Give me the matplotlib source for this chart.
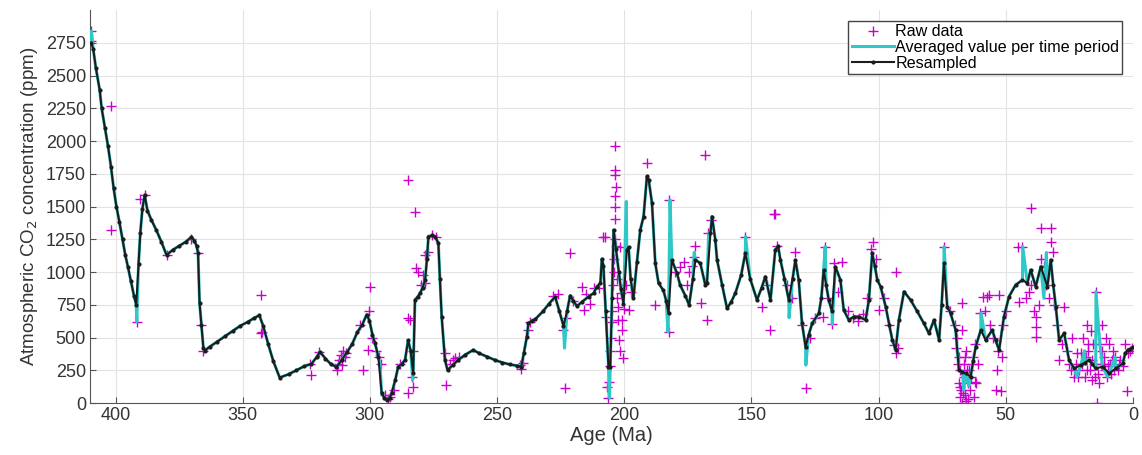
import matplotlib
matplotlib.use("Agg")
import matplotlib.pyplot as plt

plt.rcParams['font.family'] = ['Liberation Sans', 'DejaVu Sans']

# resampled curve (black), age in Ma and CO2 in ppm
res_age = [409.6, 408.8, 407.8, 406.3, 405.5, 404.2, 403.0, 401.8, 400.8, 399.7, 398.5, 397.3, 396.2,
           395.2, 394.0, 392.8, 391.9, 391.0, 390.3, 389.5, 388.6, 387.5, 386.0, 384.0, 382.0, 380.0,
           377.5, 375.0, 372.5, 370.2, 369.0, 368.2, 367.6, 367.0, 366.3, 365.5, 365.0, 363.0, 360.0,
           357.0, 354.0, 351.0, 348.0, 345.5, 343.5, 342.0, 340.0, 338.0, 335.5, 332.0, 329.0, 326.0,
           323.0, 321.0, 319.7, 317.5, 315.5, 313.2, 311.0, 309.0, 307.0, 305.0, 303.0, 301.3, 300.2,
           299.0, 298.0, 296.7, 295.4, 294.3, 293.4, 292.3, 291.5, 290.0, 288.9, 287.5, 286.2, 285.0,
           284.0, 283.0, 282.3, 281.3, 280.3, 279.3, 278.3, 277.6, 277.0, 275.5, 274.4, 273.1, 272.5,
           271.8, 270.5, 269.5, 267.5, 265.3, 262.5, 259.4, 257.0, 254.0, 251.0, 248.0, 245.0, 242.0,
           240.5, 239.5, 238.3, 237.7, 236.3, 235.0, 232.0, 229.5, 227.2, 225.5, 223.9, 222.5, 221.3,
           220.0, 218.6, 216.5, 214.0, 212.0, 210.8, 209.4, 208.8, 208.2, 207.3, 206.2, 205.5, 204.8,
           204.2, 203.3, 202.2, 201.3, 200.3, 199.0, 198.3, 197.5, 196.4, 195.0, 193.7, 192.4, 191.1,
           190.4, 189.1, 187.8, 186.5, 184.6, 183.5, 182.6, 181.3, 179.3, 178.0, 176.0, 174.5, 173.0,
           172.0, 170.1, 168.1, 167.5, 166.1, 165.5, 164.2, 163.5, 161.5, 159.6, 158.0, 156.3, 154.0,
           152.4, 150.5, 147.8, 146.0, 144.5, 142.5, 140.6, 139.5, 138.6, 137.0, 135.3, 133.8, 132.7,
           131.4, 130.1, 128.7, 127.5, 126.1, 123.5, 122.5, 121.6, 120.6, 119.6, 118.3, 117.0, 115.0,
           113.7, 111.7, 109.7, 107.8, 105.1, 103.8, 102.5, 101.5, 100.5, 99.2, 97.2, 95.8, 94.6, 93.3,
           92.0, 90.0, 87.4, 84.8, 82.2, 80.2, 78.2, 76.2, 75.2, 74.3, 73.0, 71.7, 69.7, 68.4, 67.0,
           65.7, 63.8, 62.8, 61.8, 59.8, 57.9, 55.3, 54.0, 52.6, 50.7, 48.7, 46.1, 43.4, 41.5, 40.2,
           38.2, 36.2, 33.6, 32.3, 31.3, 30.3, 29.0, 27.0, 25.1, 23.1, 20.5, 18.8, 17.2, 16.0, 14.6,
           11.9, 9.3, 6.7, 4.0, 3.0, 2.1, 1.0, 0.1]
res_co2 = [2750, 2700, 2560, 2393, 2250, 2100, 1960, 1800, 1640, 1500, 1380, 1250, 1130,
           1042, 930, 820, 749, 1060, 1300, 1480, 1590, 1470, 1400, 1320, 1230, 1131,
           1170, 1200, 1230, 1267, 1240, 1200, 1144, 762, 600, 420, 400, 430, 470,
           510, 550, 590, 620, 650, 670, 590, 450, 320, 195, 220, 250, 280,
           300, 350, 392, 340, 300, 275, 330, 390, 450, 540, 600, 675, 630,
           520, 456, 354, 74, 40, 23, 40, 74, 180, 278, 300, 329, 480,
           400, 227, 787, 810, 838, 880, 940, 1100, 1271, 1280, 1271, 1221, 950,
           660, 329, 252, 290, 329, 370, 405, 380, 355, 330, 310, 295, 285,
           278, 380, 507, 609, 630, 640, 700, 760, 813, 700, 590, 700, 820,
           780, 740, 775, 813, 840, 889, 915, 1100, 1050, 700, 278, 278, 800,
           1322, 1180, 1000, 870, 760, 1170, 1190, 950, 800, 1080, 1322, 1424, 1730,
           1705, 1527, 1068, 915, 860, 780, 686, 1093, 992, 900, 820, 749, 950,
           1093, 1068, 900, 915, 1300, 1424, 1246, 1093, 900, 724, 770, 840, 980,
           1144, 950, 787, 880, 966, 787, 1170, 1200, 1093, 950, 787, 950, 1093,
           940, 609, 430, 520, 609, 686, 800, 1017, 900, 787, 700, 1042, 940,
           711, 635, 660, 660, 635, 787, 1144, 1050, 940, 889, 736, 600, 482, 405,
           635, 851, 787, 700, 609, 533, 635, 482, 750, 1068, 736, 686, 558, 252, 240,
           227, 201, 320, 430, 558, 482, 558, 480, 405, 660, 813, 902, 940, 915, 1017,
           889, 1042, 889, 1093, 900, 736, 482, 533, 329, 265, 290, 310, 329, 300, 265,
           278, 227, 265, 303, 380, 405, 410, 430]

# extra points of the per-period average where it departs from the resampled curve
spike_age = [409.5, 391.7, 296.0, 283.2, 206.0, 205.8, 199.2, 182.8, 182.0, 223.5, 152.3,
             135.2, 128.6, 121.0, 118.2, 74.2, 66.5, 64.5, 59.7, 43.3, 35.0, 34.0, 22.0,
             19.0, 14.5, 13.0, 10.0, 7.0, 166.8, 172.5]
spike_co2 = [2840, 621, 290, 176, 74, 40, 1539, 545, 1552, 420, 1271,
             652, 290, 1195, 600, 1195, 100, 130, 689, 1195, 800, 1150, 200,
             400, 851, 450, 200, 350, 1300, 1150]

avg = sorted(zip(res_age + spike_age, res_co2 + spike_co2), reverse=True)
avg_age = [a for a, v in avg]
avg_co2 = [v for a, v in avg]

# raw proxy measurements
raw_age = [409.5, 409.8, 402.0, 402.0, 391.7, 390.5, 388.5, 380.0, 370.5, 367.6, 366.5, 365.5,
           343.0, 343.0, 342.5, 323.0, 323.5, 320.0, 313.0, 312.5, 312.0, 311.5, 311.0, 310.5,
           310.0, 309.5, 304.0, 302.7, 300.8, 300.0, 300.5, 299.0, 297.5, 296.5, 295.5, 294.0,
           293.0, 292.0, 290.5, 288.0, 285.0, 284.9, 284.9, 284.2, 283.0, 283.5, 283.0, 282.3,
           282.0, 281.0, 280.0, 279.0, 278.3, 278.3, 277.0, 275.5, 274.0, 270.5, 269.9, 268.5,
           267.5, 266.5, 265.0, 241.0, 240.5, 240.0, 238.0, 237.0, 228.0, 226.0, 223.2, 224.0,
           223.0, 221.3, 220.0, 216.7, 216.0, 215.0, 213.5, 212.0, 210.0, 208.2, 207.5, 207.0,
           206.6, 206.2, 206.0, 205.8, 205.5, 205.2, 205.0, 204.8, 204.5, 204.2, 204.0, 203.8,
           203.7, 203.6, 203.5, 203.4, 203.5, 203.5, 203.5, 203.2, 203.0, 202.8, 202.5, 202.3,
           202.0, 201.8, 201.6, 201.3, 201.0, 200.8, 200.5, 200.0, 199.5, 198.0, 197.5, 191.1,
           187.8, 182.6, 182.6, 180.0, 178.0, 176.5, 175.5, 174.5, 173.5, 172.7, 172.0, 170.0,
           168.1, 167.5, 167.0, 166.0, 152.4, 146.0, 144.0, 140.8, 141.2, 142.5, 140.0, 136.0,
           134.0, 133.0, 130.0, 128.7, 127.0, 125.0, 122.0, 121.0, 120.0, 118.3, 117.5, 116.0,
           114.3, 112.0, 110.0, 108.0, 106.0, 104.5, 103.0, 102.3, 101.0, 99.9, 98.0, 96.0,
           94.0, 93.3, 93.0, 92.5, 74.3, 72.0, 70.0, 69.0, 68.5, 68.4, 68.0, 68.0, 67.5, 67.2,
           67.0, 67.0, 66.5, 66.5, 66.0, 65.8, 65.5, 65.0, 64.5, 64.0, 63.5, 63.0, 62.5, 62.0,
           61.5, 61.0, 60.0, 59.0, 58.0, 57.2, 56.6, 56.0, 55.0, 54.0, 53.5, 53.0, 52.6, 52.0,
           51.5, 51.0, 50.0, 45.0, 44.8, 43.4, 42.0, 41.0, 40.0, 39.9, 39.0, 38.2, 38.2, 38.0,
           37.0, 36.2, 36.0, 35.0, 34.0, 33.0, 32.3, 32.0, 31.5, 31.0, 30.0, 29.0, 28.0, 27.0,
           26.0, 25.0, 24.0, 23.0, 22.0, 21.0, 20.0, 19.5, 19.0, 18.5, 18.0, 17.5, 17.0, 16.5,
           16.0, 15.5, 15.0, 14.6, 14.0, 13.5, 13.0, 12.5, 12.0, 11.5, 11.0, 10.5, 10.0, 9.5,
           9.0, 8.5, 8.0, 7.0, 6.0, 5.0, 4.0, 3.0, 2.5, 2.0, 1.0, 0.5,
           69.5, 68.8, 67.8, 66.8, 66.2, 65.2, 64.8, 63.2, 62.2, 24.5, 22.5, 21.5, 20.5, 18.2,
           17.8, 16.2, 15.2, 13.8, 12.2, 11.2, 9.8, 8.2, 7.5, 5.5]
raw_co2 = [2840, 2760, 2270, 1323, 621, 1557, 1590, 1131, 1250, 1144, 596, 400,
           826, 535, 545, 214, 300, 390, 250, 300, 330, 370, 290, 400,
           350, 380, 596, 252, 405, 884, 700, 500, 400, 350, 300, 60,
           30, 50, 100, 300, 650, 1705, 74, 635, 125, 200, 400, 1455,
           1030, 1000, 900, 980, 1131, 915, 1150, 1280, 1270, 380, 138, 300,
           330, 341, 350, 290, 260, 310, 560, 620, 820, 830, 112, 560,
           650, 1144, 780, 889, 714, 830, 760, 880, 880, 1271, 1271, 660,
           125, 40, 160, 280, 400, 500, 620, 700, 900, 1000, 1100, 1250,
           1405, 1500, 1577, 1650, 1740, 1781, 1965, 1200, 950, 800, 735, 635,
           480, 400, 1195, 838, 635, 560, 341, 720, 900, 711, 850, 1832,
           749, 1552, 545, 1000, 1040, 1080, 900, 1000, 1050, 1118, 1200, 762,
           1896, 635, 1300, 1400, 1271, 736, 900, 1443, 1440, 558, 1200, 900,
           800, 1157, 600, 112, 500, 650, 660, 1195, 800, 601, 1068, 850,
           1080, 700, 650, 630, 680, 800, 1180, 1233, 1100, 711, 800, 600,
           440, 1004, 380, 420, 1195, 700, 600, 500, 350, 150, 50, 250, 100, 762,
           558, 0, 200, 300, 60, 400, 20, 150, 250, 100, 200, 350, 50, 450,
           150, 300, 689, 813, 700, 813, 826, 600, 500, 100, 250, 400, 826, 95,
           350, 600, 700, 1195, 775, 1195, 800, 850, 900, 1488, 700, 660, 507, 580,
           750, 1335, 1100, 1050, 900, 800, 1335, 1233, 1150, 750, 600, 329, 450, 736,
           400, 300, 500, 200, 380, 250, 300, 500, 200, 350, 600, 400, 250, 550,
           330, 450, 200, 851, 0, 150, 450, 300, 600, 350, 250, 500, 200, 450,
           300, 220, 400, 350, 250, 330, 280, 450, 95, 380, 400, 420,
           420, 300, 120, 80, 350, 250, 30, 300, 160, 250, 300, 200, 380, 250,
           450, 180, 300, 220, 400, 300, 280, 330, 250, 300]

fig = plt.figure(figsize=(11.42, 4.55), dpi=100)
ax = fig.add_axes([0.079, 0.114, 0.913, 0.864])

ax.plot(raw_age, raw_co2, '+', color='#cc00cc', markersize=7, mew=1.0, label='Raw data', zorder=2)
ax.plot(avg_age, avg_co2, '-', color='#2ec8c8', lw=2.2, label='Averaged value per time period', zorder=3)
ax.plot(res_age, res_co2, '.-', color='#1c1c1c', lw=1.5, markersize=4, label='Resampled', zorder=4)

ax.set_xlim(410, 0)
ax.set_ylim(0, 3000)
ax.set_xticks(range(0, 401, 50))
ax.set_yticks(range(0, 2751, 250))
ax.grid(True, color='#e3e3e3', lw=0.8)
ax.set_axisbelow(True)
for s in ['top', 'right']:
    ax.spines[s].set_visible(False)
for s in ['left', 'bottom']:
    ax.spines[s].set_color('#555555')
ax.tick_params(direction='in', length=4, color='#555555', labelsize=13, labelcolor='#333333', pad=3)

ax.set_xlabel('Age (Ma)', fontsize=14.5, color='#333333', labelpad=1)
ax.set_ylabel('Atmospheric CO$_2$ concentration (ppm)', fontsize=13.5, color='#333333', labelpad=4)

leg = ax.legend(loc='upper right', bbox_to_anchor=(0.99, 0.972), fontsize=11.6, fancybox=False,
                framealpha=1, edgecolor='#444444', handlelength=2.6, borderpad=0.2,
                labelspacing=0.05, handletextpad=0.1, borderaxespad=0)
leg.get_frame().set_linewidth(1.0)

fig.savefig('out.png', dpi=100)
